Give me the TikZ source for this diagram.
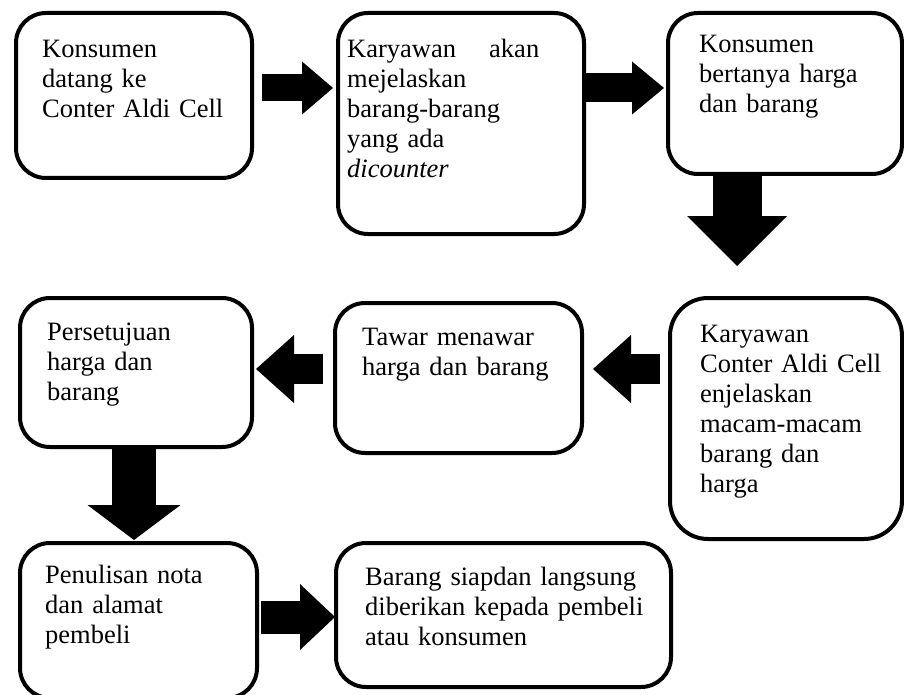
\documentclass[tikz,border=0pt]{standalone}
\usepackage{fontspec}
\setmainfont{Liberation Serif}
\usepackage{tikz}
\usetikzlibrary{arrows.meta}
\usetikzlibrary{calc}
\tikzstyle{stage} = [draw=black, line width=4pt, rounded corners=30pt, anchor=north west, inner sep=0pt]
\tikzstyle{stagetext} = [anchor=base west, align=left, inner sep=0pt, text width=300pt, font=\fontsize{26.5}{30}\selectfont]
\tikzset{blockarrow/.style n args={3}{line width=#1, -{Triangle[length=#2, width=#3, line width=0pt]}}}

\begin{document}
\begin{tikzpicture}[x=1pt, y=-1pt]

  \useasboundingbox (0,0) rectangle (904,695);

  % Row 1
  \node[stage, minimum width=236pt, minimum height=165pt] (k1) at (14,11) {};
  \node[stage, minimum width=246pt, minimum height=221pt] (k2) at (336,11) {};
  \node[stage, minimum width=234pt, minimum height=161pt] (k3) at (666,11) {};

  \node[stagetext] (t1) at (42,58) {Konsumen\\datang ke\\Conter Aldi Cell};
  \node[stagetext] (t2) at (347,58) {Karyawan\hspace{1.25em}akan\\mejelaskan\\barang-barang\\yang ada\\\textit{dicounter}};
  \node[stagetext] (t3) at (699,53) {Konsumen\\bertanya harga\\dan barang};

  % Row 2
  \node[stage, minimum width=232pt, minimum height=149pt] (k4) at (18,296) {};
  \node[stage, minimum width=247pt, minimum height=150pt] (k5) at (333,301) {};
  \node[stage, rounded corners=38pt, minimum width=232pt, minimum height=241pt] (k6) at (668,296) {};

  \node[stagetext] (t4) at (47,340) {Persetujuan\\harga dan\\barang};
  \node[stagetext] (t5) at (362,345) {Tawar menawar\\harga dan barang};
  \node[stagetext] (t6) at (700,342) {Karyawan\\Conter Aldi Cell\\enjelaskan\\macam-macam\\barang dan\\harga};

  % Row 3
  \node[stage, minimum width=237pt, minimum height=155pt] (k7) at (18,541) {};
  \node[stage, minimum width=335pt, minimum height=144pt] (k8) at (334,541) {};

  \node[stagetext] (t7) at (45,583) {Penulisan nota\\dan alamat\\pembeli};
  \node[stagetext] (t8) at (365,585) {Barang siapdan langsung\\diberikan kepada pembeli\\atau konsumen};

  % arrows
  \draw[blockarrow={27pt}{31pt}{53pt}] ($(k1.north east)+(8,77)$) -- ($(k2.north west)+(-3,77)$);
  \draw[blockarrow={29pt}{32pt}{53pt}] ($(k2.north east)+(0,77)$) -- ($(k3.north west)+(-2,77)$);
  \draw[blockarrow={49pt}{50pt}{100pt}] ($(k3.south west)+(71,0)$) -- ($(k6.north west)+(69,-30)$);
  \draw[blockarrow={30pt}{38pt}{68pt}] ($(k6.north west)+(-8,73)$) -- ($(k5.north east)+(9,68)$);
  \draw[blockarrow={30pt}{38pt}{68pt}] ($(k5.north west)+(-10,68)$) -- ($(k4.north east)+(2,73)$);
  \draw[blockarrow={44pt}{35pt}{93pt}] ($(k4.south west)+(116,0)$) -- ($(k7.north west)+(116,-1)$);
  \draw[blockarrow={33pt}{35pt}{66pt}] ($(k7.north east)+(2,76)$) -- ($(k8.north west)+(1,76)$);

\end{tikzpicture}
\end{document}
